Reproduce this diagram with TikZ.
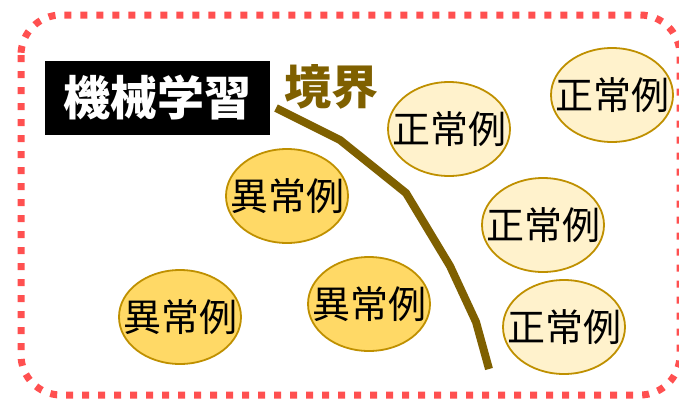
\documentclass[tikz,border=0pt]{standalone}
\usepackage{fontspec}
\newfontfamily\cjk{Noto Sans CJK JP}
\usetikzlibrary{shapes.geometric}
\definecolor{borderred}{RGB}{255,80,80}
\definecolor{brownline}{RGB}{127,96,0}
\definecolor{normfill}{RGB}{255,242,204}
\definecolor{anomfill}{RGB}{255,217,102}
\definecolor{ellstroke}{RGB}{191,144,0}
\tikzset{
  normal/.style={ellipse, draw=ellstroke, line width=1.8pt, fill=normfill, minimum width=122pt, minimum height=94pt, inner sep=0pt},
  anomaly/.style={normal, fill=anomfill},
  elltext/.style={inner sep=0pt, font=\cjk\fontsize{38}{40}\selectfont},
}
\begin{document}
\begin{tikzpicture}[x=1pt,y=-1pt]
\useasboundingbox (0,0) rectangle (679,399);
\clip (0,0) rectangle (679,399);
\fill[white] (0,0) rectangle (679,399);
\draw[borderred, line width=7pt, dash pattern=on 7pt off 9pt, rounded corners=40pt] (21,15) rectangle (680,395);
\node[fill=black, minimum width=225pt, minimum height=74pt, inner sep=0pt, text=white, font=\cjk\bfseries\fontsize{47}{50}\selectfont] (title) at (157.5,98) {機械学習};
\node[text=brownline, inner sep=0pt, font=\cjk\bfseries\fontsize{47}{50}\selectfont] (kyokai) at (331,87) {境界};
\coordinate (b0) at (276,108);
\coordinate (b1) at (340,140);
\coordinate (b2) at (406,193);
\coordinate (b3) at (450,266);
\coordinate (b4) at (476,322);
\coordinate (b5) at (489,369);
\draw[brownline, line width=8pt] (b0) -- (b1) -- (b2) -- (b3) -- (b4) -- (b5);
\node[normal] (n1) at (449,129) {};
\node[elltext] (n1t) at (n1.center) {正常例};
\node[normal] (n2) at (612,95) {};
\node[elltext] (n2t) at (n2.center) {正常例};
\node[normal] (n3) at (543,225) {};
\node[elltext] (n3t) at (n3.center) {正常例};
\node[normal] (n4) at (564,327) {};
\node[elltext] (n4t) at (n4.center) {正常例};
\node[anomaly] (a1) at (287,196) {};
\node[elltext] (a1t) at (a1.center) {異常例};
\node[anomaly] (a2) at (180,317) {};
\node[elltext] (a2t) at (a2.center) {異常例};
\node[anomaly] (a3) at (369,304) {};
\node[elltext] (a3t) at (a3.center) {異常例};
\end{tikzpicture}
\end{document}
